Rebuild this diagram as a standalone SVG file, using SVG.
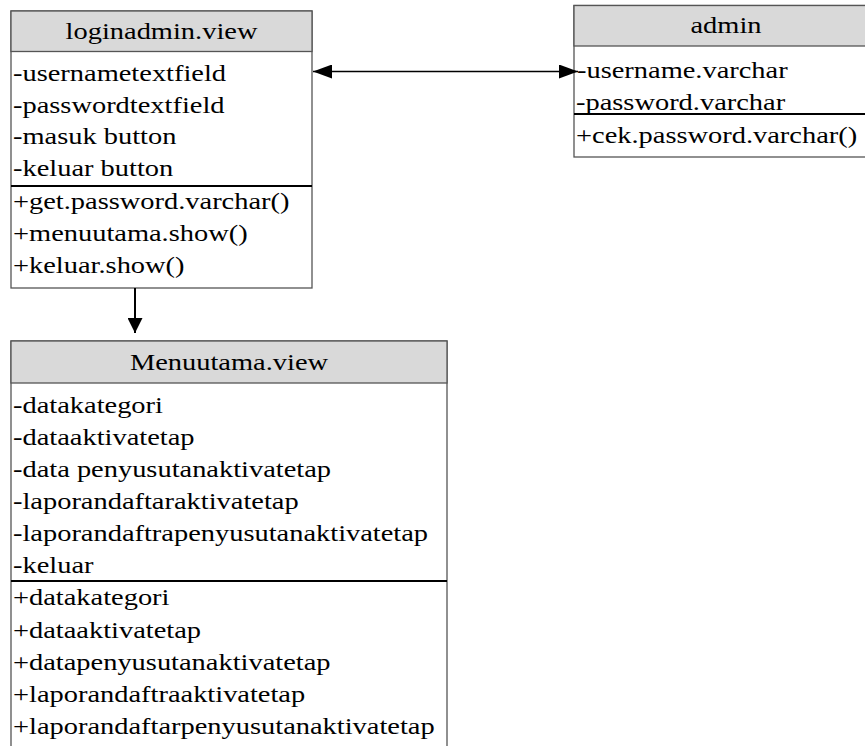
<svg xmlns="http://www.w3.org/2000/svg" width="865" height="746" viewBox="0 0 865 746">
<defs>
<style>
.t{font-family:"Liberation Serif","Times New Roman",serif;font-size:24px;fill:#000}
.c{text-anchor:middle}
.box{fill:#fff;stroke:#555;stroke-width:1.3}
.hd{fill:#d9d9d9;stroke:#555;stroke-width:1.3}
.sep{stroke:#000;stroke-width:2}
.cn{stroke:#000;fill:none}
</style>
<marker id="ah" viewBox="0 0 19 14" refX="19" refY="7" markerWidth="19" markerHeight="14" orient="auto-start-reverse" markerUnits="userSpaceOnUse"><path d="M0,0 L19,7 L0,14 z" fill="#000"/></marker>
<marker id="ad" viewBox="0 0 15 15" refX="15" refY="7.5" markerWidth="15" markerHeight="15" orient="auto" markerUnits="userSpaceOnUse"><path d="M0,0 L15,7.5 L0,15 z" fill="#000"/></marker>
</defs>
<rect width="865" height="746" fill="#fff"/>

<g id="loginadmin">
<rect class="box" x="11" y="11" width="301" height="277"/>
<rect class="hd" x="11" y="11" width="301" height="40.5"/>
<line class="sep" x1="11" y1="186" x2="312" y2="186"/>
<text class="t c" transform="translate(161.5,39) scale(1.185,1)">loginadmin.view</text>
<text class="t" transform="translate(13,81) scale(1.185,1)">-usernametextfield</text>
<text class="t" transform="translate(13,112.5) scale(1.185,1)">-passwordtextfield</text>
<text class="t" transform="translate(13,144) scale(1.185,1)">-masuk button</text>
<text class="t" transform="translate(13,176) scale(1.185,1)">-keluar button</text>
<text class="t" transform="translate(13,209) scale(1.185,1)">+get.password.varchar()</text>
<text class="t" transform="translate(13,241) scale(1.185,1)">+menuutama.show()</text>
<text class="t" transform="translate(13,273) scale(1.185,1)">+keluar.show()</text>
</g>

<g id="admin">
<rect class="box" x="574" y="5.5" width="306" height="151.5"/>
<rect class="hd" x="574" y="5.5" width="306" height="40.5"/>
<line class="sep" x1="574" y1="114" x2="880" y2="114"/>
<text class="t c" transform="translate(726,33) scale(1.185,1)">admin</text>
<text class="t" transform="translate(577,78) scale(1.185,1)">-username.varchar</text>
<text class="t" transform="translate(576,110) scale(1.185,1)">-password.varchar</text>
<text class="t" transform="translate(576,143) scale(1.185,1)">+cek.password.varchar()</text>
</g>

<g id="menuutama">
<rect class="box" x="11" y="341" width="436" height="420"/>
<rect class="hd" x="11" y="341" width="436" height="42"/>
<line class="sep" x1="11" y1="581" x2="447" y2="581"/>
<text class="t c" transform="translate(229,370) scale(1.185,1)">Menuutama.view</text>
<text class="t" transform="translate(13,412.5) scale(1.185,1)">-datakategori</text>
<text class="t" transform="translate(13,444.5) scale(1.185,1)">-dataaktivatetap</text>
<text class="t" transform="translate(13,476.5) scale(1.185,1)">-data penyusutanaktivatetap</text>
<text class="t" transform="translate(13,508.5) scale(1.185,1)">-laporandaftaraktivatetap</text>
<text class="t" transform="translate(13,540.5) scale(1.185,1)">-laporandaftrapenyusutanaktivatetap</text>
<text class="t" transform="translate(13,572.5) scale(1.185,1)">-keluar</text>
<text class="t" transform="translate(13,605) scale(1.185,1)">+datakategori</text>
<text class="t" transform="translate(13,637.5) scale(1.185,1)">+dataaktivatetap</text>
<text class="t" transform="translate(13,669.5) scale(1.185,1)">+datapenyusutanaktivatetap</text>
<text class="t" transform="translate(13,701.5) scale(1.185,1)">+laporandaftraaktivatetap</text>
<text class="t" transform="translate(13,733.5) scale(1.185,1)">+laporandaftarpenyusutanaktivatetap</text>
</g>

<g id="connectors">
<line class="cn" x1="313" y1="71.5" x2="578" y2="71.5" stroke-width="1.5" marker-start="url(#ah)" marker-end="url(#ah)"/>
<line class="cn" x1="135" y1="288" x2="135" y2="333" stroke-width="2" marker-end="url(#ad)"/>
</g>
</svg>
